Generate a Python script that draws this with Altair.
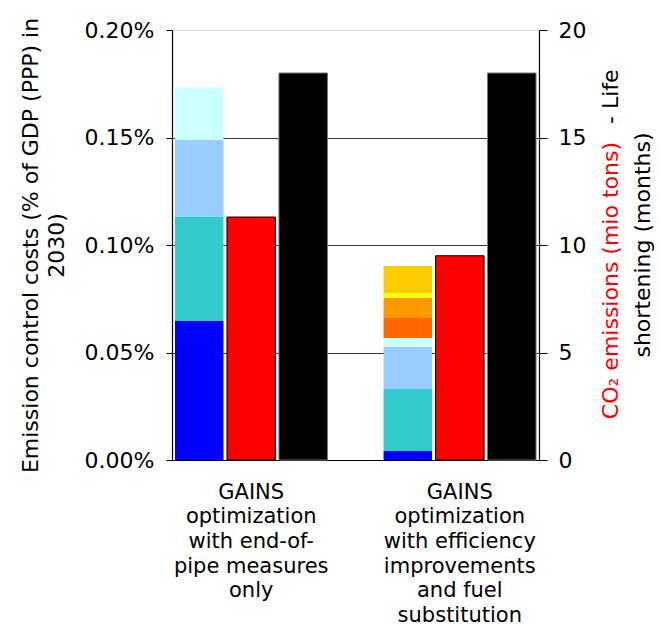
import json
import altair as alt
import pandas as pd

# ---------------- data ----------------
groups = ["end_of_pipe", "efficiency"]
group_labels = [
    ["GAINS", "optimization", "with end-of-", "pipe measures", "only"],
    ["GAINS", "optimization", "with efficiency", "improvements", "and fuel", "substitution"],
]
components = ["Component 1", "Component 2", "Component 3", "Component 4",
              "Component 5", "Component 6", "Component 7", "Component 8"]
component_colors = ["#0000FF", "#33CCCC", "#99CCFF", "#CCFFFF",
                    "#FF6600", "#FF9900", "#FFFF00", "#FFCC00"]
# emission control costs, % of GDP (PPP) in 2030
costs_end_of_pipe = [0.0647, 0.0485, 0.0358, 0.0242, 0.0, 0.0, 0.0, 0.0]
costs_efficiency = [0.0042, 0.0288, 0.0196, 0.0041, 0.0093, 0.0093, 0.0024, 0.0125]
# right axis
co2_emissions = [11.3, 9.5]          # mio tons
life_shortening = [18.0, 18.0]       # months

left_ticks = [0, 0.05, 0.10, 0.15, 0.20]
right_ticks = [0, 5, 10, 15, 20]
series_order = ["cost", "co2", "life"]

# ---------------- tables ----------------
rows = []
for g, vals in zip(groups, [costs_end_of_pipe, costs_efficiency]):
    for i, (c, v) in enumerate(zip(components, vals)):
        rows.append({"group": g, "series": "cost", "component": c, "idx": i, "value": v})
cost_df = pd.DataFrame(rows)

rows = []
for g, c2, ls in zip(groups, co2_emissions, life_shortening):
    rows.append({"group": g, "series": "co2", "value2": c2})
    rows.append({"group": g, "series": "life", "value2": ls})
impact_df = pd.DataFrame(rows)

label_map = {g: lines for g, lines in zip(groups, group_labels)}
label_expr = " : ".join(
    [f"datum.value == '{g}' ? {json.dumps(l)}" for g, l in label_map.items()]
) + " : datum.label"

FONT = "DejaVu Sans"

x_scale = alt.Scale(domain=groups, paddingInner=0.269, paddingOuter=0.0143)
x_axis = alt.Axis(orient="bottom", title=None, labelAngle=0, ticks=False,
                  labelExpr=label_expr, labelFontSize=21, labelLineHeight=24.7,
                  labelBaseline="alphabetic", labelPadding=38, labelColor="black",
                  domainColor="black", domainWidth=1.2, labelFont=FONT, grid=False)
xoff = alt.XOffset("series:N", scale=alt.Scale(domain=series_order, paddingInner=0.067,
                                                paddingOuter=0))

cost_layer = alt.Chart(cost_df).mark_bar().encode(
    x=alt.X("group:N", scale=x_scale, axis=x_axis, sort=groups),
    xOffset=xoff,
    y=alt.Y("value:Q", stack="zero",
            scale=alt.Scale(domain=[0, 0.2], nice=False, zero=True),
            axis=alt.Axis(orient="left", values=left_ticks,
                          labelExpr="format(datum.value, '.2f') + '%'",
                          title=["Emission control costs (% of GDP (PPP) in", "2030)"],
                          titleFontSize=22, titleFontWeight="normal", titleColor="black",
                          titleFont=FONT, titleAngle=270, titleAlign="center",
                          titleBaseline="alphabetic", titleX=-135, titleY=215,
                          titleLineHeight=26,
                          labelFontSize=22, labelFont=FONT, labelColor="black",
                          labelPadding=12, tickSize=6, tickColor="black",
                          domainColor="black", domainWidth=1.2,
                          grid=True, gridColor="#333333", gridWidth=1,
                          gridOpacity={"condition": {"test": "datum.value <= 0 || datum.value >= 0.2",
                                                     "value": 0}, "value": 1})),
    color=alt.Color("component:N", scale=alt.Scale(domain=components, range=component_colors),
                    legend=None),
    order=alt.Order("idx:Q"),
)

impact_layer = alt.Chart(impact_df).mark_bar(strokeWidth=1).encode(
    x=alt.X("group:N", scale=x_scale, axis=x_axis, sort=groups),
    xOffset=xoff,
    y=alt.Y("value2:Q", scale=alt.Scale(domain=[0, 20], nice=False),
            axis=alt.Axis(orient="right", values=right_ticks, title=None,
                          labelFontSize=22, labelFont=FONT, labelColor="black",
                          labelPadding=11, tickSize=8, tickColor="black",
                          domainColor="black", domainWidth=1.2, grid=False)),
    color=alt.Color("series:N", scale=alt.Scale(domain=["co2", "life"], range=["#FF0000", "#000000"]),
                    legend=None),
    stroke=alt.Stroke("series:N", scale=alt.Scale(domain=["co2", "life"], range=["#000000", "#777777"]),
                      legend=None),
)

dummy = alt.Data(values=[{"k": 1}])
title_red = alt.Chart(dummy).mark_text(
    text="CO\u2082 emissions (mio tons)", angle=270, align="right", baseline="alphabetic",
    fontSize=22, font=FONT, color="#FF0000"
).encode(x=alt.value(446), y=alt.value(112))
title_black = alt.Chart(dummy).mark_text(
    text="- Life", angle=270, align="left", baseline="alphabetic",
    fontSize=22, font=FONT, color="black"
).encode(x=alt.value(446), y=alt.value(94))
title_line2 = alt.Chart(dummy).mark_text(
    text="shortening (months)", angle=270, align="center", baseline="alphabetic",
    fontSize=22, font=FONT, color="black"
).encode(x=alt.value(478), y=alt.value(215))

chart = alt.layer(cost_layer, impact_layer, title_red, title_black, title_line2).resolve_scale(
    y="independent", color="independent"
).properties(
    width=367, height=430,
    autosize=alt.AutoSizeParams(type="none"),
    padding={"left": 172, "top": 30, "right": 121, "bottom": 166},
).configure_view(stroke=None).configure(font=FONT, background="white")

chart.save("out.html", embed_options={"renderer": "svg", "actions": False})
